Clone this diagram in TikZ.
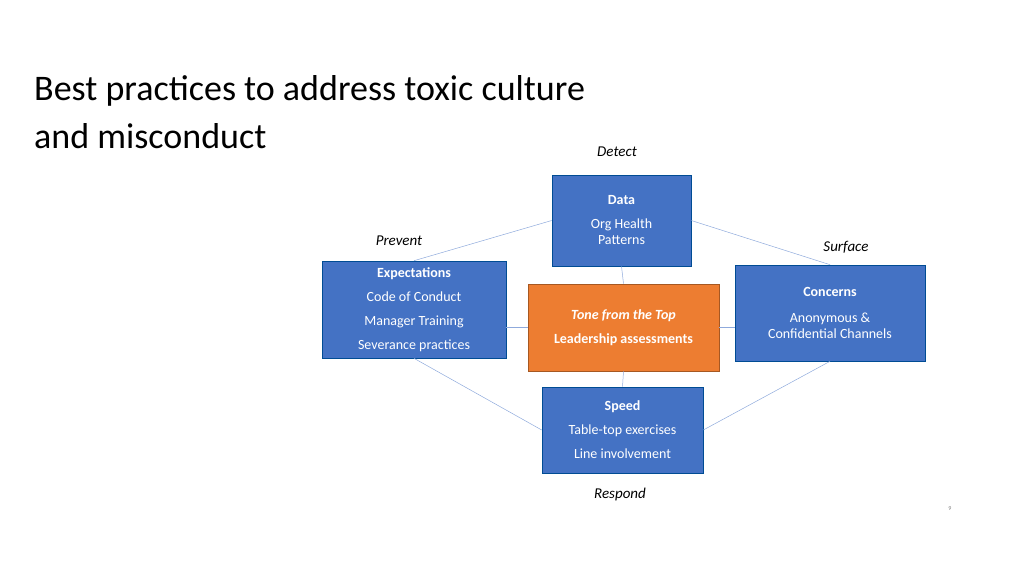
\documentclass[tikz,border=0pt]{standalone}
\usepackage{fontspec}
\setmainfont{Carlito}
\begin{document}
\begin{tikzpicture}[x=1pt,y=-1pt,
 bx/.style={draw=blue!40!black!70!cyan, line width=0.6pt, fill=boxblue, text=white, font=\fontsize{14}{24}\selectfont, align=center, inner sep=0pt},
 lnk/.style={draw=linkblue, line width=0.5pt},
 lbl/.style={font=\fontsize{15}{18}\selectfont\itshape, text=black}]
\definecolor{boxblue}{HTML}{4472C4}
\definecolor{orng}{HTML}{ED7D31}
\definecolor{linkblue}{HTML}{8FAADC}
\useasboundingbox (0,0) rectangle (1024,576);
\node[anchor=base west, font=\fontsize{36}{40}\selectfont, inner sep=0] (t1) at (34,100) {Best practices to address toxic culture};
\node[anchor=base west, font=\fontsize{36}{40}\selectfont, inner sep=0] (t2) at (34,148) {and misconduct};
\node[bx, minimum width=139, minimum height=91] (data) at (621.5,220.5) {\textbf{Data}\\Org Health\\[-8pt]Patterns};
\node[bx, minimum width=184, minimum height=97] (exp) at (414,309.5) {\textbf{Expectations}\\Code of Conduct\\Manager Training\\Severance practices};
\node[bx, fill=orng, draw=orng!70!black, minimum width=191, minimum height=87] (tone) at (623.5,327.5) {\textbf{\textit{Tone from the Top}}\\\textbf{Leadership assessments}};
\node[bx, minimum width=190, minimum height=96] (conc) at (830,313) {\textbf{Concerns}\\[2pt]Anonymous \&\\[-8pt]Confidential Channels};
\node[bx, minimum width=161, minimum height=86] (speed) at (622.5,430) {\textbf{Speed}\\Table-top exercises\\Line involvement};
\draw[lnk] (data.west) -- (exp.north);
\draw[lnk] (data.east) -- (conc.north);
\draw[lnk] (exp.south) -- (speed.west);
\draw[lnk] (conc.south) -- (speed.east);
\draw[lnk] (data.south) -- (tone.north);
\draw[lnk] (tone.south) -- (speed.north);
\draw[lnk] (exp.east |- tone.west) -- (tone.west);
\draw[lnk] (tone.east) -- (conc.west |- tone.east);
\node[lbl] (det) at (617,152) {Detect};
\node[lbl] (prev) at (399,241) {Prevent};
\node[lbl] (surf) at (846,247) {Surface};
\node[lbl] (resp) at (620,494) {Respond};
\node[font=\fontsize{6}{7}\selectfont, text=gray] (pg) at (950,509) {9};
\end{tikzpicture}
\end{document}
